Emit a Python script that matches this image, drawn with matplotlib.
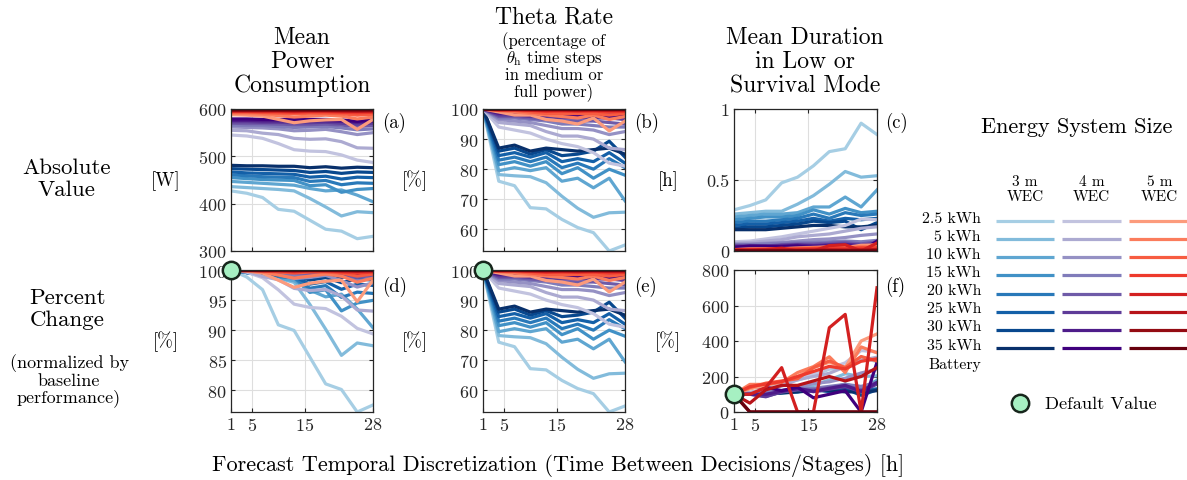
import numpy as np
import matplotlib.pyplot as plt

plt.rcParams['font.family'] = 'cmr10'
plt.rcParams['mathtext.fontset'] = 'cm'
plt.rcParams['axes.formatter.use_mathtext'] = True

# time between decisions [h]
steps = [1, 4, 7, 10, 13, 16, 19, 22, 25, 28]

batteries = ['2.5 kWh', '5 kWh', '10 kWh', '15 kWh', '20 kWh', '25 kWh', '30 kWh', '35 kWh']
wecs = ['3 m', '4 m', '5 m']

# mean power consumption [W], one row per battery size
power_3m = [
    [427, 422, 413, 388, 384, 365, 346, 342, 326, 331],
    [436, 434, 432, 430, 427, 411, 393, 374, 383, 381],
    [447, 445, 443, 441, 439, 432, 427, 429, 418, 404],
    [455, 453, 451, 450, 449, 438, 440, 424, 430, 432],
    [461, 459, 457, 456, 455, 447, 449, 440, 444, 443],
    [467, 465, 464, 463, 462, 456, 458, 452, 456, 455],
    [474, 473, 472, 471, 470, 466, 468, 464, 467, 466],
    [481, 480, 480, 479, 479, 476, 478, 475, 477, 476],
]
power_4m = [
    [545, 543, 538, 527, 514, 511, 510, 503, 492, 487],
    [555, 554, 549, 546, 538, 536, 537, 531, 518, 517],
    [562, 561, 560, 558, 554, 555, 557, 552, 546, 550],
    [566, 565, 565, 563, 561, 562, 563, 560, 556, 558],
    [570, 569, 569, 568, 567, 567, 568, 566, 563, 565],
    [573, 573, 572, 572, 571, 571, 572, 570, 568, 570],
    [576, 576, 575, 575, 575, 575, 575, 574, 572, 574],
    [579, 579, 578, 578, 578, 578, 578, 577, 574, 577],
]
power_5m = [
    [588, 587, 585, 578, 571, 575, 577, 578, 557, 578],
    [591, 590, 589, 586, 583, 585, 587, 585, 579, 583],
    [593, 593, 592, 591, 590, 591, 591, 590, 587, 589],
    [595, 595, 594, 594, 593, 594, 594, 593, 592, 593],
    [596, 596, 596, 596, 595, 596, 596, 595, 595, 595],
    [597, 597, 597, 597, 597, 597, 597, 597, 596, 597],
    [598, 598, 598, 598, 598, 598, 598, 598, 598, 598],
    [600, 600, 600, 600, 600, 600, 600, 600, 600, 600],
]

# theta rate [%]
theta_3m = [
    [100, 76.0, 74.5, 67.2, 66.8, 63.3, 60.6, 58.9, 52.8, 54.8],
    [100, 78.2, 77.8, 77.5, 75.5, 71.0, 67.0, 64.0, 65.5, 65.7],
    [100, 79.5, 80.5, 79.5, 80.5, 76.0, 77.0, 73.8, 77.0, 69.5],
    [100, 81.5, 82.5, 81.0, 82.5, 78.5, 80.5, 77.0, 80.0, 78.0],
    [100, 83.0, 84.0, 82.5, 84.0, 80.5, 82.0, 80.0, 83.5, 80.5],
    [100, 84.5, 85.5, 84.0, 85.5, 82.5, 83.5, 82.5, 85.5, 82.0],
    [100, 86.0, 87.0, 85.0, 86.5, 84.5, 85.0, 86.0, 89.3, 84.0],
    [100, 87.0, 88.0, 86.0, 87.0, 86.5, 86.0, 86.5, 87.0, 85.0],
]
theta_4m = [
    [100, 94.0, 93.0, 92.0, 90.0, 88.5, 87.5, 85.5, 82.0, 81.0],
    [100, 95.5, 95.0, 94.5, 92.5, 91.0, 91.0, 90.0, 87.0, 86.5],
    [100, 96.5, 96.0, 95.5, 94.5, 93.5, 93.5, 93.0, 91.5, 92.5],
    [100, 97.0, 97.0, 96.5, 96.0, 95.0, 95.0, 94.5, 94.0, 94.0],
    [100, 97.5, 97.5, 97.0, 96.5, 96.0, 96.0, 96.0, 95.5, 95.0],
    [100, 98.0, 98.0, 97.5, 97.5, 97.0, 97.0, 97.0, 97.0, 96.5],
    [100, 98.5, 98.5, 98.0, 98.0, 98.0, 97.5, 97.5, 97.5, 97.5],
    [100, 99.0, 99.0, 98.5, 98.5, 98.5, 98.0, 98.0, 98.0, 98.0],
]
theta_5m = [
    [100, 99.0, 98.0, 98.0, 96.5, 96.0, 95.0, 97.0, 92.7, 96.0],
    [100, 99.5, 99.0, 98.5, 98.0, 97.5, 97.0, 98.0, 96.5, 97.5],
    [100, 99.5, 99.5, 99.0, 98.5, 98.5, 98.5, 98.5, 98.0, 98.5],
    [100, 99.7, 99.7, 99.5, 99.2, 99.3, 99.2, 99.3, 99.0, 99.2],
    [100, 99.8, 99.8, 99.7, 99.5, 99.6, 99.5, 99.6, 99.5, 99.5],
    [100, 99.9, 99.9, 99.8, 99.8, 99.8, 99.7, 99.8, 99.7, 99.8],
    [100, 100, 100, 99.9, 99.9, 99.9, 99.9, 99.9, 99.9, 99.9],
    [100, 100, 100, 100, 100, 100, 100, 100, 100, 100],
]

# mean duration in low or survival mode [h]
dur_3m = [
    [0.29, 0.32, 0.36, 0.48, 0.52, 0.60, 0.70, 0.72, 0.90, 0.82],
    [0.26, 0.27, 0.28, 0.28, 0.33, 0.39, 0.47, 0.56, 0.52, 0.53],
    [0.24, 0.25, 0.26, 0.26, 0.27, 0.31, 0.31, 0.38, 0.31, 0.43],
    [0.22, 0.23, 0.24, 0.24, 0.25, 0.29, 0.26, 0.30, 0.27, 0.28],
    [0.20, 0.21, 0.21, 0.22, 0.23, 0.26, 0.23, 0.27, 0.25, 0.26],
    [0.18, 0.19, 0.19, 0.20, 0.21, 0.23, 0.21, 0.23, 0.22, 0.23],
    [0.16, 0.17, 0.17, 0.18, 0.19, 0.21, 0.20, 0.21, 0.15, 0.20],
    [0.15, 0.15, 0.15, 0.16, 0.17, 0.18, 0.18, 0.17, 0.17, 0.18],
]
dur_4m = [
    [0.065, 0.070, 0.085, 0.100, 0.120, 0.140, 0.160, 0.180, 0.225, 0.220],
    [0.055, 0.060, 0.070, 0.080, 0.100, 0.110, 0.120, 0.140, 0.160, 0.170],
    [0.050, 0.050, 0.055, 0.060, 0.070, 0.080, 0.085, 0.095, 0.110, 0.120],
    [0.045, 0.045, 0.050, 0.055, 0.060, 0.060, 0.065, 0.070, 0.065, 0.075],
    [0.040, 0.040, 0.035, 0.045, 0.050, 0.050, 0.055, 0.060, 0.050, 0.065],
    [0.035, 0.035, 0.030, 0.040, 0.045, 0.040, 0.045, 0.050, 0.040, 0.055],
    [0.030, 0.030, 0.030, 0.035, 0.040, 0.035, 0.040, 0.045, 0.035, 0.050],
    [0.025, 0.035, 0.035, 0.030, 0.035, 0.020, 0.025, 0.030, 0.000, 0.070],
]
dur_5m = [
    [0.010, 0.013, 0.015, 0.017, 0.020, 0.025, 0.028, 0.025, 0.040, 0.044],
    [0.009, 0.014, 0.014, 0.015, 0.020, 0.023, 0.028, 0.020, 0.033, 0.030],
    [0.008, 0.011, 0.013, 0.014, 0.015, 0.020, 0.023, 0.020, 0.025, 0.023],
    [0.007, 0.010, 0.011, 0.012, 0.014, 0.016, 0.018, 0.017, 0.020, 0.021],
    [0.008, 0.008, 0.011, 0.020, 0.000, 0.000, 0.038, 0.044, 0.000, 0.056],
    [0.004, 0.002, 0.005, 0.006, 0.006, 0.007, 0.008, 0.007, 0.008, 0.010],
    [0.003, 0.000, 0.000, 0.000, 0.000, 0.000, 0.000, 0.000, 0.000, 0.000],
    [0.002, 0.000, 0.000, 0.000, 0.000, 0.000, 0.000, 0.000, 0.000, 0.000],
]

power = [np.array(a, float) for a in (power_3m, power_4m, power_5m)]
theta = [np.array(a, float) for a in (theta_3m, theta_4m, theta_5m)]
dur = [np.array(a, float) for a in (dur_3m, dur_4m, dur_5m)]


def percent(groups):
    # change relative to the 1 h baseline
    with np.errstate(divide='ignore', invalid='ignore'):
        return [100 * g / g[:, :1] for g in groups]


cmaps = [plt.cm.Blues, plt.cm.Purples, plt.cm.Reds]
shades = np.linspace(0.35, 1.0, 8)
default_face = '#a6f0c2'
default_edge = '#17261c'
ink = '#262626'

W, H = 1187, 481
fig = plt.figure(figsize=(W / 100, H / 100), dpi=100)

# pixel-space layer for titles and the legend
lay = fig.add_axes([0, 0, 1, 1])
lay.set_xlim(0, W)
lay.set_ylim(H, 0)
lay.axis('off')


def put(x, y, s, size, ha='center'):
    lay.text(x, y, s, fontsize=size, ha=ha, va='center', color='black')


def box(l, t, r, b):
    return [l / W, 1 - b / H, (r - l) / W, (b - t) / H]


cols = [(231, 373), (483, 625), (734, 877)]
rows = [(110, 252), (271, 413)]

panels = [
    (power, (300, 600), [300, 400, 500, 600], None),
    (theta, (None, 100), [60, 70, 80, 90, 100], None),
    (dur, (0, 1), [0, 0.5, 1], ['0', '0.5', '1']),
    (percent(power), (None, 100), [80, 85, 90, 95, 100], None),
    (percent(theta), (None, 100), [60, 70, 80, 90, 100], None),
    (percent(dur), (0, 800), [0, 200, 400, 600, 800], None),
]

for n, (data, ylim, yt, ytl) in enumerate(panels):
    r, c = divmod(n, 3)
    ax = fig.add_axes(box(cols[c][0], rows[r][0], cols[c][1], rows[r][1]))
    for k in range(3):
        for j in range(8):
            ax.plot(steps, data[k][j], color=cmaps[k](shades[j]), lw=2.3)
    lo, hi = ylim
    if lo is None:
        lo = np.nanmin(np.concatenate([g.ravel() for g in data]))
    ax.set_ylim(lo, hi)
    ax.set_xlim(1, 28)
    ax.set_xticks([1, 5, 15, 28])
    ax.set_yticks(yt)
    if ytl:
        ax.set_yticklabels(ytl)
    ax.grid(True, color='#dedede', lw=0.8)
    ax.set_axisbelow(True)
    ax.tick_params(direction='in', top=True, right=True, length=3,
                   labelsize=13, color=ink, labelcolor=ink, pad=3)
    if r == 0:
        ax.tick_params(labelbottom=False)
    else:
        ax.plot(1, 100, 'o', ms=12.5, mfc=default_face, mec=default_edge,
                mew=1.8, clip_on=False, zorder=10)
    for s in ax.spines.values():
        s.set_color(ink)
        s.set_linewidth(0.9)

# column titles
for y, s in zip([38, 62, 86], ['Mean', 'Power', 'Consumption']):
    put(302, y, s, 17)
put(554, 17, 'Theta Rate', 17)
for y, s in zip([41, 58, 75, 92], ['(percentage of', r'$\theta_\mathrm{h}$ time steps',
                                   'in medium or', 'full power)']):
    put(554, y, s, 12)
for y, s in zip([38, 62, 86], ['Mean Duration', 'in Low or', 'Survival Mode']):
    put(805, y, s, 17)

# row titles
put(67, 168, 'Absolute', 16.5)
put(67, 190, 'Value', 16.5)
put(67, 298, 'Percent', 16.5)
put(67, 320, 'Change', 16.5)
for y, s in zip([363, 381, 398], ['(normalized by', 'baseline', 'performance)']):
    put(69, y, s, 13)

# units
for x, y, s in [(166, 181, '[W]'), (415, 181, '[%]'), (668, 181, '[h]'),
                (166, 342, '[%]'), (415, 342, '[%]'), (668, 342, '[%]')]:
    put(x, y, s, 13.5)

# panel letters
for (x, y), s in zip([(382, 123), (634, 123), (885, 123),
                      (382, 287), (634, 287), (885, 287)], 'abcdef'):
    put(x, y, '(%s)' % s, 13.5, ha='left')

put(558, 466, 'Forecast Temporal Discretization (Time Between Decisions/Stages) [h]', 16)

# legend
put(1077, 127, 'Energy System Size', 16)
spans = [(996, 1054), (1062, 1121), (1129, 1190)]
for k, (x0, x1) in enumerate(spans):
    cx = (x0 + x1) / 2
    put(cx, 182, wecs[k], 11)
    put(cx, 197, 'WEC', 11)
for j, name in enumerate(batteries):
    y = 222.3 + 18.05 * j
    put(981, y - 3, name, 11.4, ha='right')
    for k, (x0, x1) in enumerate(spans):
        lay.plot([x0, x1], [y, y], color=cmaps[k](shades[j]), lw=2.3,
                 solid_capstyle='butt', clip_on=False)
put(981, 365, 'Battery', 11.4, ha='right')
lay.plot(1020, 404, 'o', ms=12.5, mfc=default_face, mec=default_edge, mew=1.8)
put(1045, 404, 'Default Value', 13.2, ha='left')

fig.savefig('out.png', dpi=100)
